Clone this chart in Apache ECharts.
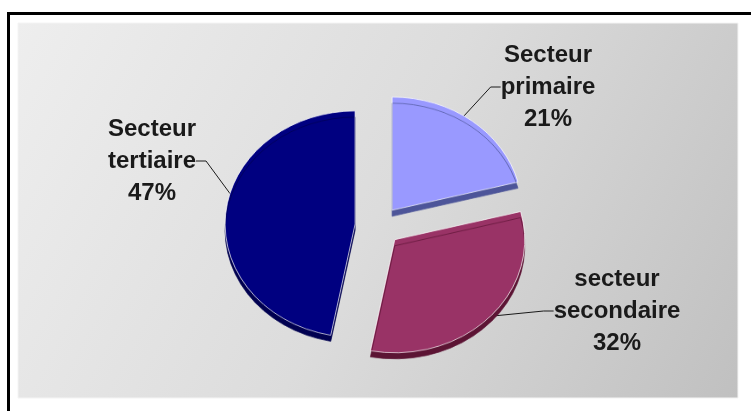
<!DOCTYPE html>
<html>
<head>
<meta charset="utf-8">
<script src="https://cdn.jsdelivr.net/npm/echarts@6/dist/echarts.min.js"></script>
<style>
    html, body { margin: 0; padding: 0; background: #fff; }
    #wrap { position: relative; width: 751px; height: 411px; }
    #labels, #pie { position: absolute; left: 0; top: 0; width: 751px; height: 411px; }
    /* flatten the pie a little, like the tilted 3D pie of the original */
    #pie { transform: scaleY(0.87); transform-origin: 378px 226px; }
</style>
</head>
<body>
<div id="wrap">
    <div id="labels"></div>
    <div id="pie"></div>
</div>
<script>
var names = ['Secteur primaire', 'secteur secondaire', 'Secteur tertiaire'];
var values = [21, 32, 47];
var colors = ['#9999ff', '#993366', '#000080'];
var rimColors = ['#4d5599', '#5c1434', '#000050'];

// label centres (px)
var labelPos = [[548, 87], [617, 311], [152, 161]];

var pieData = names.map(function (n, i) {
    return {
        name: n,
        value: values[i],
        selected: true,
        itemStyle: {
            color: colors[i],
            shadowColor: rimColors[i],
            shadowOffsetY: 7,
            shadowBlur: 0
        }
    };
});

var labelData = names.map(function (n, i) {
    return { name: n, value: values[i] };
});

// background frame + labels (bottom layer)
var labelChart = echarts.init(document.getElementById('labels'));
labelChart.setOption({
    animation: false,
    graphic: [
        { type: 'rect', shape: { x: 7, y: 12, width: 744, height: 3 }, style: { fill: '#000' } },
        { type: 'rect', shape: { x: 7, y: 12, width: 3, height: 399 }, style: { fill: '#000' } },
        {
            type: 'rect',
            z: -1,
            shape: { x: 18, y: 23, width: 720, height: 375 },
            style: {
                fill: new echarts.graphic.LinearGradient(0, 0, 1, 1, [
                    { offset: 0, color: '#eeeeee' },
                    { offset: 0.5, color: '#dcdcdc' },
                    { offset: 1, color: '#c0c0c0' }
                ]),
                stroke: '#f4f4f4',
                lineWidth: 1
            }
        }
    ],
    series: [
        {
            type: 'pie',
            silent: true,
            center: [378, 226],
            radius: 134,
            startAngle: 90,
            data: labelData,
            itemStyle: { color: 'rgba(0,0,0,0)' },
            label: {
                show: true,
                position: 'outside',
                formatter: function (p) {
                    return p.name.replace(' ', '\n') + '\n' + p.percent + '%';
                },
                fontFamily: 'Liberation Sans, Arial, sans-serif',
                fontWeight: 'bold',
                fontSize: 24,
                lineHeight: 32,
                color: '#1a1a1a'
            },
            labelLine: {
                show: true,
                length: 8,
                length2: 10,
                lineStyle: { color: '#1a1a1a', width: 1 }
            },
            labelLayout: function (p) {
                var pos = labelPos[p.dataIndex];
                return {
                    x: pos[0],
                    y: pos[1],
                    align: 'center',
                    verticalAlign: 'middle'
                };
            }
        }
    ]
});

// exploded pie (top layer)
var pieChart = echarts.init(document.getElementById('pie'));
pieChart.setOption({
    animation: false,
    series: [
        {
            type: 'pie',
            center: [378, 226],
            radius: 130,
            startAngle: 90,
            selectedMode: 'multiple',
            selectedOffset: 23,
            data: pieData,
            itemStyle: {
                borderColor: 'rgba(255,255,255,0.7)',
                borderWidth: 1
            },
            emphasis: { disabled: true },
            label: { show: false },
            labelLine: { show: false }
        }
    ]
});
</script>
</body>
</html>
